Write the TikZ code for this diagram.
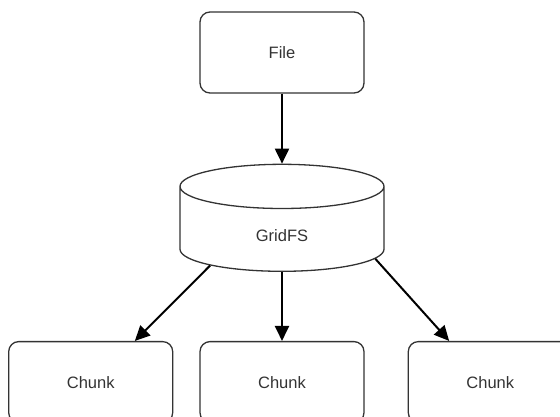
\documentclass[tikz,border=0pt]{standalone}
\usepackage{fontspec}
\setmainfont{Liberation Sans}
\usetikzlibrary{positioning,shapes.geometric,arrows.meta}
\definecolor{inkgray}{HTML}{333333}

\begin{document}
\begin{tikzpicture}
[x=1pt,y=-1pt,>={Triangle[length=15pt,width=14pt]},
 box/.style={draw=inkgray, line width=1.3pt, rounded corners=10pt,
   minimum width=164pt, minimum height=81pt,
   font=\fontsize{16.5}{18}\selectfont, text=inkgray},
 store/.style={cylinder, shape border rotate=90, draw=inkgray,
   line width=1.3pt, minimum width=204pt, minimum height=107pt,
   shape aspect=0.75, text height=20pt,
   font=\fontsize{16.5}{18}\selectfont, text=inkgray},
 link/.style={->, line width=2pt, black}]
\clip (0,0) rectangle (560,416);
% nodes
\node [box] (file) at (282,52.5) {File};
\node [store, below=70pt of file] (gridfs) {GridFS};
\node [box, below=69pt of gridfs] (chunk2) {Chunk};
\node [box, left=26pt of chunk2] (chunk1) {Chunk};
\node [box, right=43pt of chunk2] (chunk3) {Chunk};

% arrows
\draw [link] (file) -- (gridfs);
\draw [link] (gridfs.205) -- (chunk1.43);
\draw [link] (gridfs.south) -- (chunk2);
\draw [link] (gridfs.344) -- (chunk3.135);
\end{tikzpicture}
\end{document}
